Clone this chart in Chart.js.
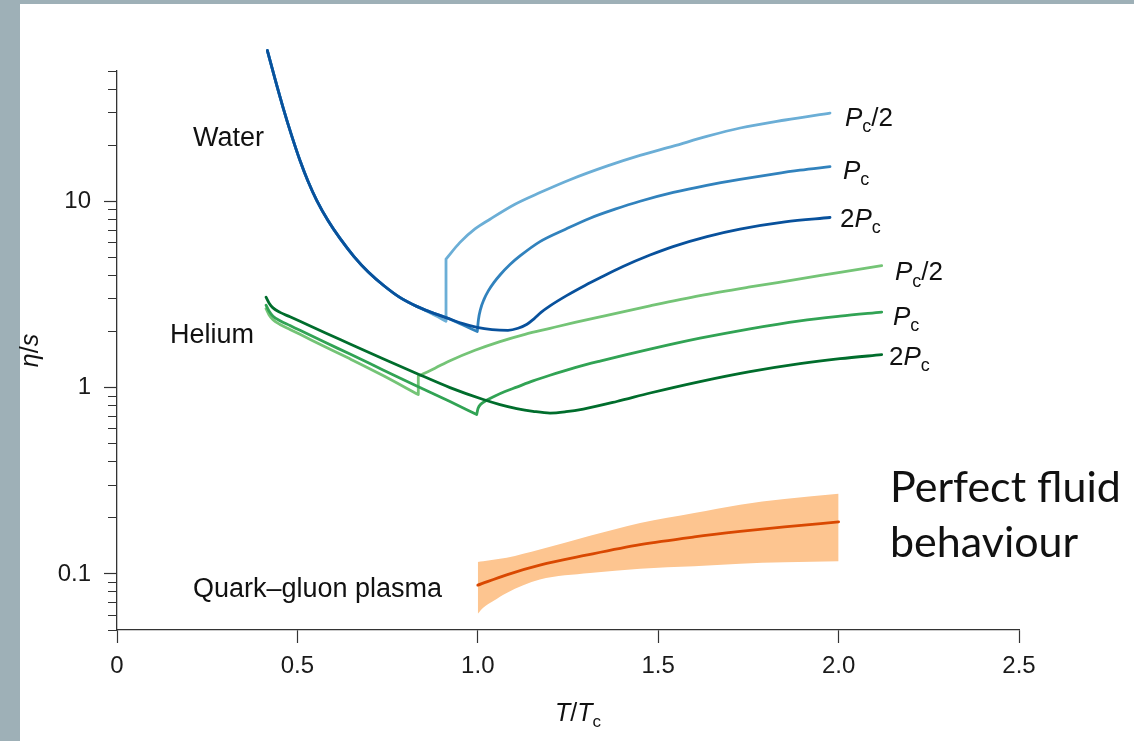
<!DOCTYPE html>
<html><head><meta charset="utf-8">
<script src="https://cdn.jsdelivr.net/npm/chart.js@4.4.1/dist/chart.umd.min.js"></script>
<style>
html,body{margin:0;padding:0;width:1134px;height:741px;overflow:hidden;background:#9eb0b7;}
#panel{position:absolute;left:20px;top:4px;width:1114px;height:737px;background:#ffffff;}
#c{position:absolute;left:0;top:0;}
</style></head><body>
<div id="panel"></div>
<canvas id="c" width="1134" height="741"></canvas>
<script>
// ---------- tick values / labels ----------
const xTickValues = [0, 0.5, 1.0, 1.5, 2.0, 2.5];
const xTickLabels = ['0', '0.5', '1.0', '1.5', '2.0', '2.5'];
const yTickValues = [0.05,0.06,0.07,0.08,0.09,0.1,0.2,0.3,0.4,0.5,0.6,0.7,0.8,0.9,1,2,3,4,5,6,7,8,9,10,20,30,40,50];
const yLabelValues = [0.1, 1, 10];
const yTickLabels = ['0.1', '1', '10'];

// ---------- series: [T/Tc, eta/s]  (null = break at a sharp corner) ----------
const waterCommon = [[0.4166,64.43],[0.4379,45.37],[0.4609,31.54],[0.4823,23.07],[0.5072,16.55],[0.5294,12.81],[0.5535,10.12],[0.5848,7.884],[0.6181,6.318],[0.6569,5.049],[0.6965,4.172],[0.7400,3.520],[0.7838,3.048],[0.8306,2.728]];
const waterHalfPc = [[0.873,2.487],[0.9119,2.268],[0.9119,null],[0.9119,2.268],[0.9119,4.896],[0.9119,null],[0.9119,4.896],[0.9507,6.014],[0.9922,7.10],[1.0338,8.01],[1.1031,9.64],[1.1724,11.13],[1.2555,13.05],[1.3573,15.43],[1.4496,17.62],[1.5418,19.75],[1.6344,22.27],[1.7273,24.72],[1.852,27.29],[1.9762,29.74]];
const waterPc = [[0.8675,2.549],[0.9138,2.368],[0.9562,2.178],[0.9986,2.0],[0.9986,null],[0.9986,2.0],[1.0017,2.310],[1.0075,2.630],[1.0172,2.974],[1.0291,3.302],[1.0449,3.667],[1.0615,4.021],[1.0892,4.575],[1.117,5.087],[1.1724,6.073],[1.2417,7.06],[1.311,8.112],[1.3803,9.064],[1.4496,10.0],[1.5419,11.15],[1.6344,12.18],[1.7267,13.11],[1.819,14.0],[1.893,14.68],[1.9762,15.33]];
const water2Pc = [[0.8675,2.549],[0.9138,2.368],[0.9562,2.213],[0.9978,2.106],[1.0394,2.048],[1.0837,2.030],[1.1115,2.081],[1.1364,2.186],[1.1558,2.339],[1.1752,2.533],[1.2001,2.745],[1.2472,3.125],[1.2971,3.533],[1.3387,3.885],[1.4024,4.464],[1.4773,5.142],[1.541,5.710],[1.6353,6.459],[1.7267,7.085],[1.8514,7.752],[1.9762,8.180]];

const heliumHalfPc = [[0.413,2.652],[0.4213,2.46],[0.4324,2.31],[0.4518,2.181],[0.4795,2.05],[0.5072,1.93],[0.5765,1.657],[0.6458,1.426],[0.7373,1.161],[0.8351,0.917],[0.8351,null],[0.8351,0.917],[0.8351,1.152],[0.8351,null],[0.8351,1.152],[0.8814,1.271],[0.9229,1.394],[0.9922,1.586],[1.0615,1.766],[1.1308,1.932],[1.2001,2.08],[1.2694,2.237],[1.3387,2.398],[1.4773,2.745],[1.6159,3.116],[1.7544,3.468],[1.893,3.827],[2.0039,4.156],[2.1195,4.508]];
const heliumPc = [[0.413,2.768],[0.4213,2.575],[0.4324,2.417],[0.4518,2.282],[0.4795,2.151],[0.5072,2.028],[0.5765,1.749],[0.6458,1.513],[0.7373,1.244],[0.8306,1.020],[0.9229,0.842],[0.997,0.717],[0.997,null],[0.997,0.717],[1.0006,0.772],[1.0089,0.816],[1.0255,0.857],[1.0477,0.901],[1.0754,0.952],[1.1078,1.006],[1.153,1.086],[1.2001,1.164],[1.2694,1.279],[1.3387,1.386],[1.4773,1.607],[1.6159,1.84],[1.7544,2.068],[1.893,2.282],[2.0039,2.417],[2.1195,2.54]];
const helium2Pc = [[0.413,3.055],[0.4213,2.848],[0.4324,2.678],[0.4518,2.533],[0.4795,2.398],[0.5072,2.268],[0.5765,1.968],[0.6458,1.715],[0.7373,1.429],[0.8306,1.191],[0.9229,1.0],[1.0152,0.863],[1.0615,0.811],[1.1078,0.772],[1.153,0.746],[1.2001,0.730],[1.2445,0.742],[1.2924,0.767],[1.385,0.842],[1.4776,0.935],[1.6159,1.077],[1.7544,1.218],[1.893,1.344],[2.0039,1.429],[2.1195,1.501]];

const qgpLine = [[1.0,0.087],[1.08,0.0989],[1.172,0.1114],[1.3,0.126],[1.45,0.1436],[1.6,0.158],[1.727,0.169],[1.85,0.179],[2.0,0.19]];
const qgpBandX = [1.0,1.015,1.043,1.08,1.172,1.311,1.45,1.6,1.727,1.85,2.0];
const qgpBandUpper = [0.116,0.117,0.119,0.122,0.135,0.160,0.1875,0.212,0.235,0.252,0.269];
const qgpBandLower = [0.0611,0.0658,0.0715,0.0791,0.0932,0.101,0.1067,0.110,0.1135,0.1155,0.117];

// ---------- styles ----------
const C = {
  wHalf:'#6baed6', wPc:'#3182bd', w2:'#08519c',
  hHalf:'#74c476', hPc:'#31a354', h2:'#006d2c',
  qLine:'#d94801', qBand:'#fdc590'
};
const toPts = arr => arr.map(([x,y]) => ({x, y}));
const lineDs = (label, arr, color) => ({
  label, data: toPts(arr), borderColor: color, backgroundColor: color,
  borderWidth: 2.8, pointRadius: 0, fill: false, clip: false,
  cubicInterpolationMode: 'monotone', spanGaps: false, borderCapStyle: 'round', borderJoinStyle: 'round'
});

const datasets = [
  lineDs('QGP', qgpLine, C.qLine),
  lineDs('Water 2Pc', waterCommon.concat(water2Pc), C.w2),
  lineDs('Water Pc', waterCommon.concat(waterPc), C.wPc),
  lineDs('Water Pc/2', waterCommon.concat(waterHalfPc), C.wHalf),
  lineDs('Helium 2Pc', helium2Pc, C.h2),
  lineDs('Helium Pc', heliumPc, C.hPc),
  lineDs('Helium Pc/2', heliumHalfPc, C.hHalf),
  Object.assign(lineDs('QGP upper', qgpBandX.map((x,i)=>[x,qgpBandUpper[i]]), C.qBand), {borderWidth:0, fill:'+1', backgroundColor:C.qBand}),
  Object.assign(lineDs('QGP lower', qgpBandX.map((x,i)=>[x,qgpBandLower[i]]), C.qBand), {borderWidth:0, fill:false})
];

// ---------- text annotations (data coordinates) ----------
const FONT = "'Liberation Sans', Arial, Helvetica, sans-serif";
const notes = [
  {runs:[{t:'Water'}], x:0.2106, y:22.27, size:27},
  {runs:[{t:'Helium'}], x:0.1469, y:1.945, size:27},
  {runs:[{t:'Quark\u2013gluon plasma'}], x:0.2106, y:0.0852, size:27},
  {runs:[{t:'P',i:1},{t:'c',sub:1},{t:'/2'}], x:2.0177, y:28.5, size:26},
  {runs:[{t:'P',i:1},{t:'c',sub:1}], x:2.0122, y:14.83, size:26},
  {runs:[{t:'2'},{t:'P',i:1},{t:'c',sub:1}], x:2.0039, y:8.21, size:26},
  {runs:[{t:'P',i:1},{t:'c',sub:1},{t:'/2'}], x:2.1563, y:4.22, size:26},
  {runs:[{t:'P',i:1},{t:'c',sub:1}], x:2.1508, y:2.427, size:26},
  {runs:[{t:'2'},{t:'P',i:1},{t:'c',sub:1}], x:2.1397, y:1.483, size:26},
  {runs:[{t:'Perfect fluid'}], x:2.1425, y:0.2955, size:43, family:"Lato, 'Open Sans', sans-serif"},
  {runs:[{t:'behaviour'}], x:2.1425, y:0.1483, size:43, family:"Lato, 'Open Sans', sans-serif"}
];

function runFont(r, size, family){
  const s = r.sub ? Math.round(size*0.68) : size;
  return (r.i ? 'italic ' : '') + s + 'px ' + family;
}
function richWidth(ctx, runs, size, family){
  let w = 0;
  runs.forEach(r => { ctx.font = runFont(r, size, family); w += ctx.measureText(r.t).width; });
  return w;
}
function drawRich(ctx, runs, x, baseline, size, family){
  let cx = x;
  runs.forEach(r => {
    ctx.font = runFont(r, size, family);
    ctx.fillText(r.t, cx, baseline + (r.sub ? size*0.24 : 0));
    cx += ctx.measureText(r.t).width;
  });
}

const textPlugin = {
  id: 'texts',
  afterDraw(chart){
    const ctx = chart.ctx, xs = chart.scales.x, ys = chart.scales.y, a = chart.chartArea;
    ctx.save();
    ctx.fillStyle = '#111';
    ctx.textAlign = 'left';
    ctx.textBaseline = 'alphabetic';
    notes.forEach(n => {
      const fam = n.family || FONT;
      const px = xs.getPixelForValue(n.x), py = ys.getPixelForValue(n.y);
      drawRich(ctx, n.runs, px, py + n.size*0.36, n.size, fam);
    });
    // x axis title  T/Tc
    const xt = [{t:'T',i:1},{t:'/'},{t:'T',i:1},{t:'c',sub:1}];
    const xw = richWidth(ctx, xt, 25, FONT);
    drawRich(ctx, xt, (a.left + a.right)/2 - xw/2 + 10, 721, 25, FONT);
    // y axis title  eta/s (rotated)
    const yt = [{t:'\u03b7',i:1},{t:'/'},{t:'s',i:1}];
    const yw = richWidth(ctx, yt, 25, FONT);
    ctx.translate(38, (a.top + a.bottom)/2);
    ctx.rotate(-Math.PI/2);
    drawRich(ctx, yt, -yw/2, 0, 25, FONT);
    ctx.restore();
  }
};

Chart.defaults.font.family = FONT;
new Chart(document.getElementById('c'), {
  type: 'line',
  data: { datasets },
  options: {
    responsive: false, animation: false, devicePixelRatio: 1,
    events: [],
    layout: { padding: { top: 71, right: 115, left: 0, bottom: 0 } },
    elements: { line: { capBezierPoints: false }, point: { radius: 0 } },
    plugins: { legend: { display: false }, tooltip: { enabled: false } },
    scales: {
      x: {
        type: 'linear', min: 0, max: 2.5,
        afterBuildTicks: s => { s.ticks = xTickValues.map(v => ({value: v})); },
        afterFit: s => { s.height = 111; },
        ticks: { autoSkip: false, maxRotation: 0, padding: 9, color: '#1a1a1a',
                 font: { size: 24 }, callback: (v, i) => xTickLabels[i] },
        grid: { drawOnChartArea: false, drawTicks: true, tickLength: 13, tickColor: '#333', tickWidth: 1.2 },
        border: { display: true, color: '#333', width: 1.3 }
      },
      y: {
        type: 'logarithmic', min: 0.05, max: 50,
        afterBuildTicks: s => { s.ticks = yTickValues.map(v => ({value: v, major: yLabelValues.includes(v)})); },
        afterFit: s => { s.width = 117; },
        ticks: { autoSkip: false, padding: 13, color: '#1a1a1a', font: { size: 24 },
                 callback: v => { const k = yLabelValues.indexOf(v); return k >= 0 ? yTickLabels[k] : ''; } },
        grid: { drawOnChartArea: false, drawTicks: true, tickLength: 13, tickColor: '#333', tickWidth: 1.2,
                tickBorderDash: ctx => (ctx.tick && ctx.tick.major) ? [] : [0, 4, 30] },
        border: { display: true, color: '#333', width: 1.3 }
      }
    }
  },
  plugins: [textPlugin]
});
</script>
</body></html>
